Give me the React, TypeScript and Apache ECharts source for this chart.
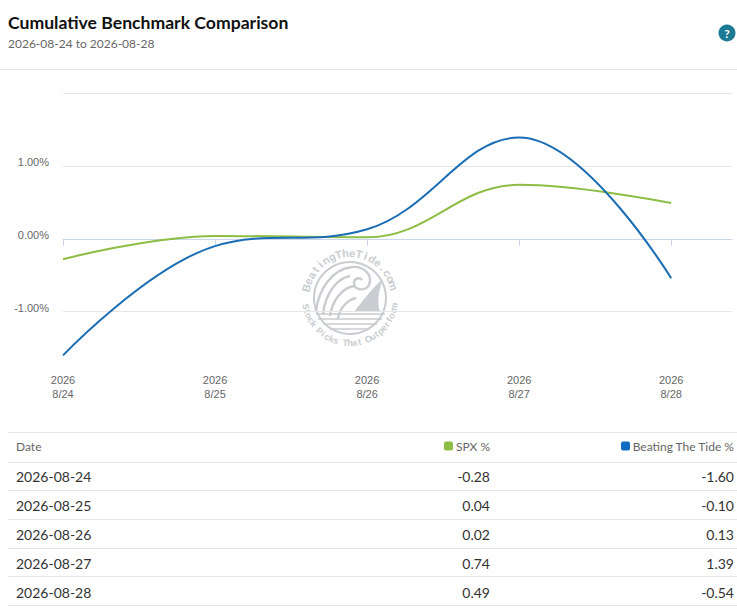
import { useEffect, useRef } from 'react';
import * as echarts from 'echarts';

const dates = ['2026-08-24', '2026-08-25', '2026-08-26', '2026-08-27', '2026-08-28'];
const axisDays = ['8/24', '8/25', '8/26', '8/27', '8/28'];
const spxValues = [-0.28, 0.04, 0.02, 0.74, 0.49];
const bttValues = [-1.6, -0.1, 0.13, 1.39, -0.54];
const yLabelTicks = [-1, 0, 1];
const yGridTicks = [-1, 0, 1, 2];
const seriesNames = ['SPX %', 'Beating The Tide %'];

const SPX_COLOR = '#8cbd44';
const BTT_COLOR = '#1b6db5';
const WM_COLOR = '#c9ccd0';

// watermark pieces (local coords, centre of the badge at 0,0)
const wavePath =
  'M-34,14 C-32,-8 -18,-29 2,-31 C15,-32 23,-22 19,-13 C15,-6 4,-8 4,-15 C4,-20 10,-21 12,-18 ' +
  'M-27,16 C-25,-2 -15,-19 0,-22 M-20,18 C-18,4 -9,-10 4,-12 M-12,20 C-10,10 -3,2 6,0';
const finPath = 'M4,14 C12,4 22,-10 33,-19 C28,-6 27,4 30,14 Z';
const waterPath =
  'M-34,16 L35,16 M-32,21 L32,21 M-27,26 L27,26 M-20,31 L20,31';

echarts.graphic.registerShape('wmWave', echarts.graphic.extendPath(wavePath, {}));
echarts.graphic.registerShape('wmFin', echarts.graphic.extendPath(finPath, {}));
echarts.graphic.registerShape('wmWater', echarts.graphic.extendPath(waterPath, {}));

const arcText = (
  text: string,
  cx: number,
  cy: number,
  r: number,
  startDeg: number,
  endDeg: number,
  inward: boolean,
  font: string
) => {
  const step = (endDeg - startDeg) / (text.length - 1);
  return text.split('').map((ch, i) => {
    const deg = startDeg + i * step;
    const a = (deg * Math.PI) / 180;
    return {
      type: 'text',
      x: cx + r * Math.sin(a),
      y: cy - r * Math.cos(a),
      rotation: inward ? ((180 - deg) * Math.PI) / 180 : -a,
      silent: true,
      z: 0,
      style: {
        text: ch,
        font,
        fill: WM_COLOR,
        align: 'center',
        verticalAlign: 'middle',
      },
    };
  });
};

const Chart = () => {
  const chartRef = useRef<HTMLDivElement>(null);

  useEffect(() => {
    if (!chartRef.current) return;
    const chart = echarts.init(chartRef.current, null, { renderer: 'svg' });

    const wmX = 350;
    const wmY = 298;

    const option: any = {
      animation: false,
      grid: {
        left: 63,
        right: 5,
        top: 93,
        bottom: 54,
        containLabel: false,
        outerBoundsMode: 'none',
      },
      graphic: [
        {
          type: 'text',
          x: 8,
          y: 22,
          style: {
            text: 'Cumulative Benchmark Comparison',
            font: 'bold 17.6px Lato',
            fill: '#111111',
            verticalAlign: 'middle',
          },
        },
        {
          type: 'text',
          x: 8,
          y: 43,
          style: {
            text: `${dates[0]} to ${dates[dates.length - 1]}`,
            font: '12px Lato',
            fill: '#666666',
            verticalAlign: 'middle',
          },
        },
        {
          type: 'circle',
          shape: { cx: 727, cy: 33, r: 8.5 },
          style: { fill: '#1b7a94' },
        },
        {
          type: 'text',
          x: 727,
          y: 33.5,
          style: {
            text: '?',
            font: 'bold 12px Lato',
            fill: '#ffffff',
            align: 'center',
            verticalAlign: 'middle',
          },
        },
        {
          type: 'line',
          shape: { x1: 0, y1: 69.5, x2: 737, y2: 69.5 },
          style: { stroke: '#e6e6e6', lineWidth: 1 },
        },
        {
          type: 'circle',
          shape: { cx: wmX, cy: wmY, r: 36 },
          silent: true,
          z: 0,
          style: { fill: 'none', stroke: WM_COLOR, lineWidth: 2 },
        },
        {
          type: 'wmWave',
          x: wmX,
          y: wmY,
          silent: true,
          z: 0,
          style: { fill: 'none', stroke: WM_COLOR, lineWidth: 2.4 },
        },
        {
          type: 'wmFin',
          x: wmX,
          y: wmY,
          silent: true,
          z: 0,
          style: { fill: WM_COLOR, stroke: 'none' },
        },
        {
          type: 'wmWater',
          x: wmX,
          y: wmY,
          silent: true,
          z: 0,
          style: { fill: 'none', stroke: WM_COLOR, lineWidth: 1.5 },
        },
        ...arcText('BeatingTheTide.com', wmX, wmY, 45, -77, 74, false, 'bold 11px "Liberation Sans"'),
        ...arcText('Stock Picks That Outperform', wmX, wmY, 45, 259, 101, true, 'bold 9px "Liberation Sans"'),
      ],
      xAxis: {
        type: 'value',
        min: 0,
        max: 4.4,
        interval: 1,
        axisLine: { lineStyle: { color: '#ccd6eb', width: 1 } },
        axisTick: {
          show: true,
          length: 7,
          customValues: axisDays.map((_, i) => i),
          lineStyle: { color: '#ccd6eb' },
        },
        axisLabel: {
          customValues: axisDays.map((_, i) => i),
          margin: 7,
          color: '#666666',
          fontSize: 11,
          lineHeight: 14,
          fontFamily: '"Liberation Sans", Arial',
          formatter: (v: number) => {
            const i = Math.round(v);
            return `${dates[i].slice(0, 4)}\n${axisDays[i]}`;
          },
        },
        splitLine: { show: false },
      },
      yAxis: {
        type: 'value',
        min: -1.745,
        max: 2,
        axisLine: { show: false },
        axisTick: { show: false, customValues: yGridTicks },
        axisLabel: {
          customValues: yLabelTicks,
          margin: 14,
          color: '#666666',
          fontSize: 11,
          lineHeight: 8,
          verticalAlign: 'bottom',
          fontFamily: '"Liberation Sans", Arial',
          formatter: (v: number) => `${v.toFixed(2)}%`,
        },
        splitLine: { show: true, lineStyle: { color: '#e6e6e6', width: 1 } },
      },
      series: [
        {
          name: seriesNames[0],
          type: 'line',
          data: spxValues.map((v, i) => [i, v]),
          smooth: 0.4,
          showSymbol: false,
          symbol: 'none',
          lineStyle: { color: SPX_COLOR, width: 2 },
          itemStyle: { color: SPX_COLOR },
          z: 3,
        },
        {
          name: seriesNames[1],
          type: 'line',
          data: bttValues.map((v, i) => [i, v]),
          smooth: 0.4,
          showSymbol: false,
          symbol: 'none',
          lineStyle: { color: BTT_COLOR, width: 2 },
          itemStyle: { color: BTT_COLOR },
          z: 4,
        },
      ],
    };

    chart.setOption(option);

    return () => {
      chart.dispose();
    };
  }, []);

  return <div ref={chartRef} style={{ position: 'absolute', left: 0, top: 0, width: 737, height: 420 }} />;
};

const fmt = (v: number) => v.toFixed(2);

const Swatch = ({ color }: { color: string }) => (
  <span
    style={{
      display: 'inline-block',
      width: 9,
      height: 9,
      borderRadius: 2,
      background: color,
      marginRight: 3,
      verticalAlign: 'middle',
      position: 'relative',
      top: -1,
    }}
  />
);

const ROW_H = 29;
const TABLE_TOP = 432;

const cellBase: React.CSSProperties = {
  position: 'absolute',
  whiteSpace: 'nowrap',
  transform: 'translateY(-50%)',
};

const Table = () => {
  const rows = dates.map((d, i) => ({ date: d, spx: spxValues[i], btt: bttValues[i] }));
  return (
    <div style={{ position: 'absolute', left: 0, top: 0, width: 737, height: 611, fontFamily: 'Lato, sans-serif' }}>
      {[0, 1, 2, 3, 4, 5, 6].map((k) => (
        <div
          key={'l' + k}
          style={{
            position: 'absolute',
            left: 8,
            right: 0,
            top: k === 0 ? TABLE_TOP : TABLE_TOP + 29.5 + (k - 1) * ROW_H - 0.3 * (k - 1),
            height: 1,
            background: '#e6e6e6',
          }}
        />
      ))}
      <div style={{ ...cellBase, left: 16, top: 446, fontSize: 12, color: '#666' }}>Date</div>
      <div style={{ ...cellBase, right: 247, top: 446, fontSize: 12, color: '#666' }}>
        <Swatch color={SPX_COLOR} />
        {seriesNames[0]}
      </div>
      <div style={{ ...cellBase, right: 3, top: 446, fontSize: 12, color: '#666' }}>
        <Swatch color={'#0f6cc0'} />
        {seriesNames[1]}
      </div>
      {rows.map((r, i) => {
        const y = 476 + i * 29;
        return (
          <div key={r.date}>
            <div style={{ ...cellBase, left: 16, top: y, fontSize: 14, color: '#333' }}>{r.date}</div>
            <div style={{ ...cellBase, right: 247, top: y, fontSize: 14, color: '#333' }}>{fmt(r.spx)}</div>
            <div style={{ ...cellBase, right: 3, top: y, fontSize: 14, color: '#333' }}>{fmt(r.btt)}</div>
          </div>
        );
      })}
    </div>
  );
};

const App = () => (
  <div style={{ position: 'absolute', left: 0, top: 0, width: 737, height: 611, background: '#fff', overflow: 'hidden' }}>
    <Table />
    <Chart />
  </div>
);

export default App;
